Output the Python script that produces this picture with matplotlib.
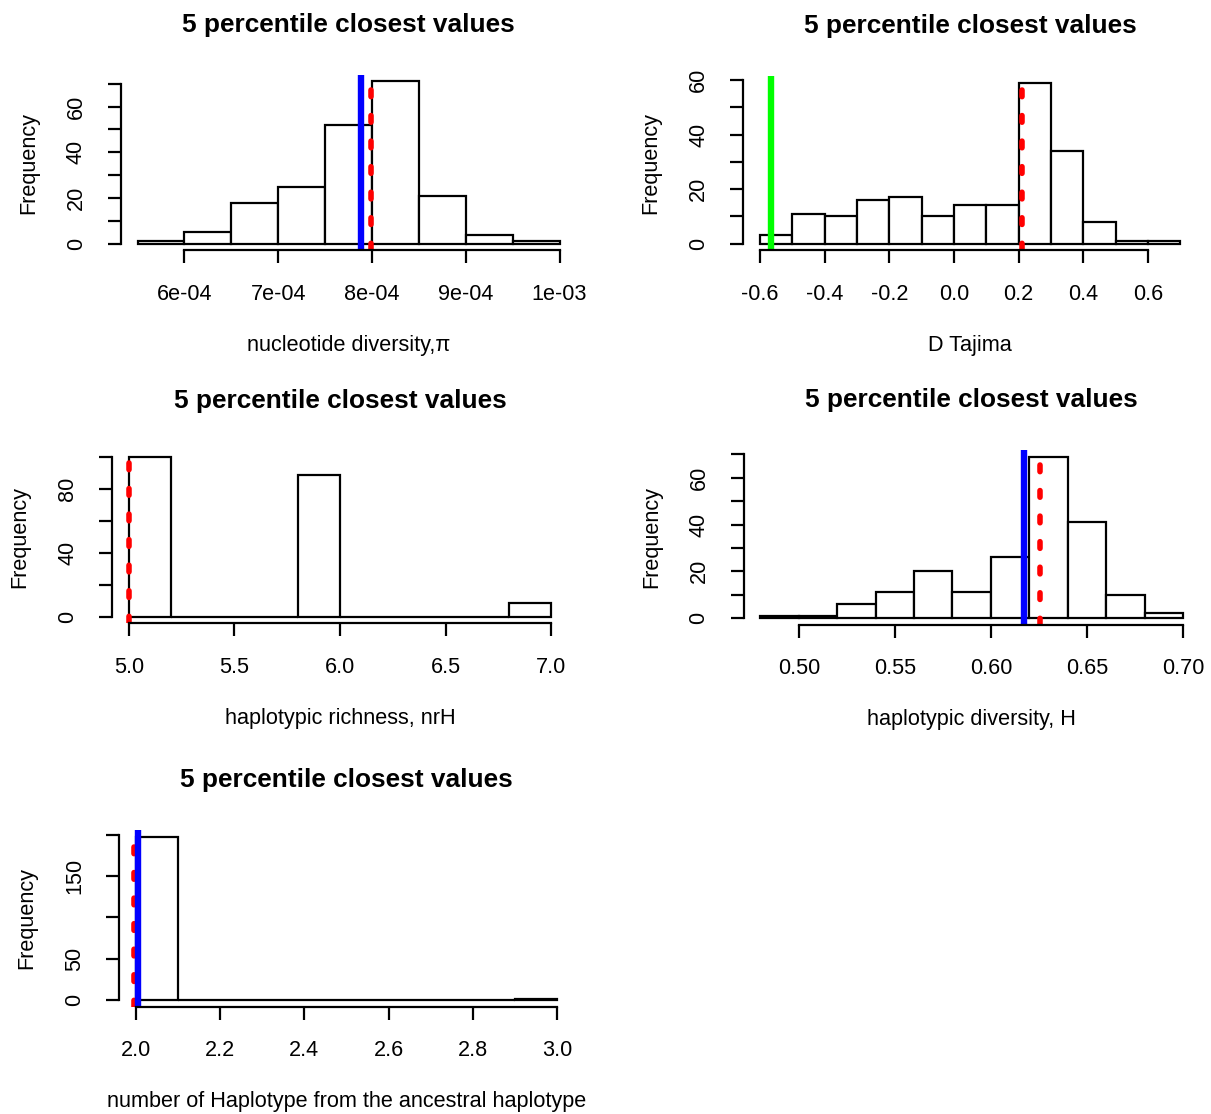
import numpy as np
import matplotlib
matplotlib.use("Agg")
import matplotlib.pyplot as plt

plt.rcParams['font.family'] = ['Liberation Sans', 'DejaVu Sans']

# --- data ---
pi_edges = [5.5e-4, 6.0e-4, 6.5e-4, 7.0e-4, 7.5e-4, 8.0e-4, 8.5e-4, 9.0e-4, 9.5e-4, 1.0e-3]
pi_counts = [1, 5, 18, 25, 52, 71, 21, 4, 1]
pi_obs = 7.886e-4
pi_mean = 7.992e-4

taj_edges = [-0.6, -0.5, -0.4, -0.3, -0.2, -0.1, 0.0, 0.1, 0.2, 0.3, 0.4, 0.5, 0.6, 0.7]
taj_counts = [3, 11, 10, 16, 17, 10, 14, 14, 59, 34, 8, 1, 1]
taj_obs = -0.565
taj_mean = 0.209

nrh_edges = [5.0, 5.2, 5.4, 5.6, 5.8, 6.0, 6.2, 6.4, 6.6, 6.8, 7.0]
nrh_counts = [100, 0, 0, 0, 89, 0, 0, 0, 0, 9]
nrh_mean = 5.0

h_edges = [0.48, 0.50, 0.52, 0.54, 0.56, 0.58, 0.60, 0.62, 0.64, 0.66, 0.68, 0.70]
h_counts = [1, 1, 6, 11, 20, 11, 26, 69, 41, 10, 2]
h_obs = 0.6173
h_mean = 0.6256

anc_edges = [2.0, 2.1, 2.2, 2.3, 2.4, 2.5, 2.6, 2.7, 2.8, 2.9, 3.0]
anc_counts = [198, 0, 0, 0, 0, 0, 0, 0, 0, 1]
anc_obs = 2.005
anc_mean = 1.995

pi_xticks = [6e-4, 7e-4, 8e-4, 9e-4, 1e-3]
pi_xlabels = ["6e-04", "7e-04", "8e-04", "9e-04", "1e-03"]
taj_xticks = [-0.6, -0.4, -0.2, 0.0, 0.2, 0.4, 0.6]
taj_xlabels = ["-0.6", "-0.4", "-0.2", "0.0", "0.2", "0.4", "0.6"]
nrh_xticks = [5.0, 5.5, 6.0, 6.5, 7.0]
nrh_xlabels = ["5.0", "5.5", "6.0", "6.5", "7.0"]
h_xticks = [0.50, 0.55, 0.60, 0.65, 0.70]
h_xlabels = ["0.50", "0.55", "0.60", "0.65", "0.70"]
anc_xticks = [2.0, 2.2, 2.4, 2.6, 2.8, 3.0]
anc_xlabels = ["2.0", "2.2", "2.4", "2.6", "2.8", "3.0"]

y70_ticks = [0, 10, 20, 30, 40, 50, 60, 70]
y70_labels = ["0", "", "20", "", "40", "", "60", ""]
y60_ticks = [0, 10, 20, 30, 40, 50, 60]
y60_labels = ["0", "", "20", "", "40", "", "60"]
y100_ticks = [0, 20, 40, 60, 80, 100]
y100_labels = ["0", "", "40", "", "80", ""]
y200_ticks = [0, 50, 100, 150, 200]
y200_labels = ["0", "50", "", "150", ""]

W, H = 1211, 1114
fig = plt.figure(figsize=(W / 100, H / 100), dpi=100)

TICK = 15.6
LW = 1.6


def px_axes(left, top, right, bottom):
    ax = fig.add_axes([left / W, 1 - bottom / H, (right - left) / W, (bottom - top) / H])
    return ax, right - left, bottom - top


def hist_panel(rect, edges, counts, xticks, xlabels, yticks, ylabels, xlabel, lines):
    ax, wpx, hpx = px_axes(*rect)
    edges = np.asarray(edges)
    counts = np.asarray(counts)
    ax.bar(edges[:-1], counts, width=np.diff(edges), align='edge',
           color='white', edgecolor='black', linewidth=LW)
    rx = edges[-1] - edges[0]
    ry = counts.max()
    ax.set_xlim(edges[0] - 0.04 * rx, edges[-1] + 0.04 * rx)
    ax.set_ylim(-0.04 * ry, 1.04 * ry)

    for x, color, dashed in lines:
        if dashed:
            ax.axvline(x, color=color, lw=4.0, ls=(0, (1.2, 3.4)),
                       dash_capstyle='round')
        else:
            ax.axvline(x, color=color, lw=4.6)

    for s in ['top', 'right']:
        ax.spines[s].set_visible(False)
    ax.spines['left'].set_bounds(yticks[0], yticks[-1])
    ax.spines['bottom'].set_bounds(xticks[0], xticks[-1])
    ax.spines['left'].set_linewidth(LW)
    ax.spines['bottom'].set_linewidth(LW)

    ax.set_xticks(xticks)
    ax.set_xticklabels(xlabels)
    ax.set_yticks(yticks)
    ax.set_yticklabels(ylabels, rotation=90, va='center')
    ax.tick_params(length=9.4, width=LW, pad=15, labelsize=TICK, colors='black')

    ax.set_title("5 percentile closest values", fontsize=18.9, fontweight='bold', pad=31)
    ax.set_xlabel(xlabel, fontsize=TICK)
    ax.xaxis.set_label_coords(0.5, -95 / hpx)
    ax.xaxis.label.set_va('center')
    ax.set_ylabel("Frequency", fontsize=TICK)
    ax.yaxis.set_label_coords(-92 / wpx, 0.5)
    ax.yaxis.label.set_va('center')
    return ax


hist_panel((120.7, 75, 576.4, 250.2), pi_edges, pi_counts, pi_xticks, pi_xlabels,
           y70_ticks, y70_labels, "nucleotide diversity,π",
           [(pi_mean, 'red', True), (pi_obs, 'blue', False)])

hist_panel((743.2, 76.3, 1197.1, 250.1), taj_edges, taj_counts, taj_xticks, taj_xlabels,
           y60_ticks, y60_labels, "D Tajima",
           [(taj_obs, '#00FF00', False), (taj_mean, 'red', True)])

hist_panel((112.1, 450.6, 567.9, 623.4), nrh_edges, nrh_counts, nrh_xticks, nrh_xlabels,
           y100_ticks, y100_labels, "haplotypic richness, nrH",
           [(nrh_mean, 'red', True)])

hist_panel((743.5, 450.3, 1199.9, 624.6), h_edges, h_counts, h_xticks, h_xlabels,
           y70_ticks, y70_labels, "haplotypic diversity, H",
           [(h_mean, 'red', True), (h_obs, 'blue', False)])

hist_panel((119.2, 830.1, 573.8, 1006.5), anc_edges, anc_counts, anc_xticks, anc_xlabels,
           y200_ticks, y200_labels, "number of Haplotype from the ancestral haplotype",
           [(anc_mean, 'red', True), (anc_obs, 'blue', False)])

fig.savefig("out.png", dpi=100)
